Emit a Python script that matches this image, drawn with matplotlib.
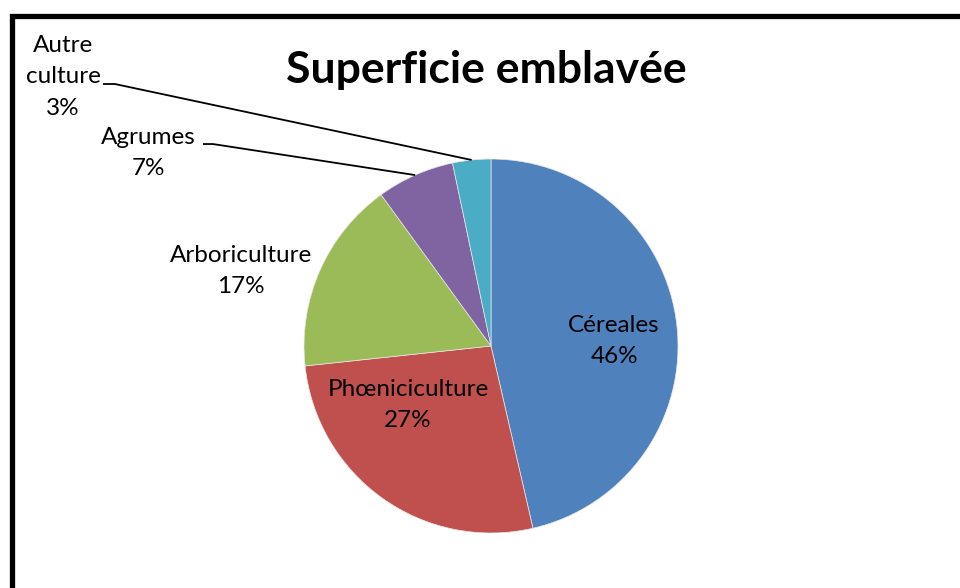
import numpy as np
import matplotlib.pyplot as plt
from matplotlib.patches import Rectangle

plt.rcParams['font.family'] = ['Lato', 'DejaVu Sans']

# data
labels = ['Céreales', 'Phœniciculture', 'Arboriculture', 'Agrumes', 'Autre\nculture']
shares = [46.4, 26.9, 16.7, 6.7, 3.3]
colors = ['#4F81BD', '#C0504D', '#9BBB59', '#8064A2', '#4BACC6']

# label centres (data units, radius = 1)
label_pos = [(0.658, 0.027), (-0.444, -0.316), (-1.337, 0.401),
             (-1.834, 1.032), (-2.289, 1.439)]
# leader line elbows for the small slices (index -> (elbow, end))
leaders = {3: ((-1.487, 1.080), (-1.540, 1.080)),
           4: ((-2.011, 1.401), (-2.075, 1.401))}

W, H = 960, 588
fig = plt.figure(figsize=(W / 100, H / 100), dpi=100)

cx, cy, r = 491, 346, 187
ax = fig.add_axes([(cx - r) / W, (H - cy - r) / H, 2 * r / W, 2 * r / H])
wedges, _ = ax.pie(shares, colors=colors, startangle=90, counterclock=False,
                   wedgeprops=dict(edgecolor='#e8e8e8', linewidth=0.5))
ax.set_xlim(-1, 1)
ax.set_ylim(-1, 1)
ax.set_aspect('equal')
ax.axis('off')

tot = sum(shares)
for i, (lab, v) in enumerate(zip(labels, shares)):
    pct = '%d%%' % round(100. * v / tot)
    x, y = label_pos[i]
    ax.text(x, y, lab + '\n' + pct, ha='center', va='center', fontsize=17.5,
            linespacing=1.6, color='black', clip_on=False)
    if i in leaders:
        w = wedges[i]
        ang = np.deg2rad((w.theta1 + w.theta2) / 2.)
        p0 = (np.cos(ang), np.sin(ang))
        (ex, ey), (tx, ty) = leaders[i]
        ax.plot([p0[0], ex, tx], [p0[1], ey, ty], color='black', lw=1.3,
                clip_on=False, solid_capstyle='butt')

fig.text(486 / W, 1 - 70 / H, 'Superficie emblavée', ha='center', va='center',
         fontsize=32, fontweight='bold')

# outer frame (cropped at right and bottom)
fig.patches.append(Rectangle((11.5 / W, -0.1), 1.2, 0.1 + (1 - 16.5 / H),
                             transform=fig.transFigure, fill=False,
                             edgecolor='black', linewidth=3.8))

fig.savefig('out.png', dpi=100)
